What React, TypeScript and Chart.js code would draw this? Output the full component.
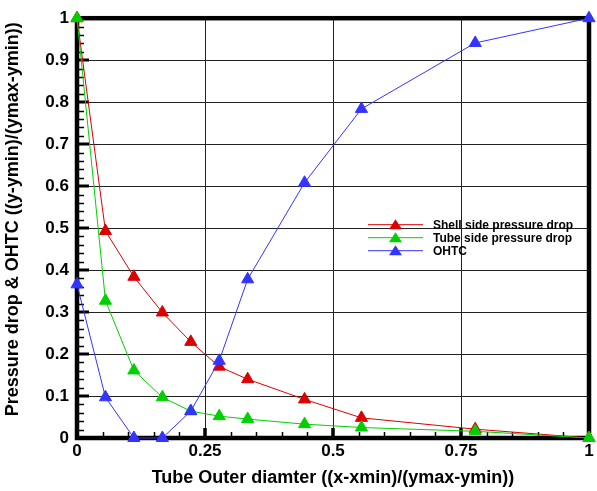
import React, { useEffect, useRef } from "react";
import { Chart, registerables } from "chart.js";

Chart.register(...registerables);

// ---- data ----
const xValues = [0, 0.0556, 0.1111, 0.1667, 0.2222, 0.2778, 0.3333, 0.4444, 0.5556, 0.7778, 1];
const shellDrop = [1, 0.493, 0.384, 0.299, 0.229, 0.17, 0.14, 0.092, 0.048, 0.021, 0];
const tubeDrop = [1, 0.327, 0.161, 0.097, 0.064, 0.052, 0.045, 0.033, 0.025, 0.016, 0];
const ohtc = [0.366, 0.097, 0.0, 0.0, 0.064, 0.184, 0.378, 0.608, 0.784, 0.941, 1];
const xTicks = [0, 0.25, 0.5, 0.75, 1];
const yTicks = [0, 0.1, 0.2, 0.3, 0.4, 0.5, 0.6, 0.7, 0.8, 0.9, 1];
const seriesLabels = ["Shell side pressure drop", "Tube side pressure drop", "OHTC"];
const seriesColors = ["#dc0000", "#00d000", "#3434ff"];
const xTitle = "Tube Outer diamter ((x-xmin)/(ymax-ymin))";
const yTitle = "Pressure drop & OHTC ((y-ymin)/(ymax-ymin))";

const FONT = "'Liberation Sans', Arial, sans-serif";

function tri(ctx: CanvasRenderingContext2D, x: number, y: number, w: number, h: number, color: string) {
  ctx.beginPath();
  ctx.moveTo(x, y - h / 2);
  ctx.lineTo(x + w / 2, y + h / 2);
  ctx.lineTo(x - w / 2, y + h / 2);
  ctx.closePath();
  ctx.fillStyle = color;
  ctx.fill();
}

const framePlugin = {
  id: "frame",
  beforeDatasetsDraw(chart: any) {
    const { ctx, chartArea: a, scales } = chart;
    const xs = scales.x;
    const ys = scales.y;
    ctx.save();
    ctx.strokeStyle = "#000";
    // y minor ticks
    ctx.lineWidth = 1.5;
    for (let i = 0; i <= 50; i++) {
      if (i % 5 === 0) continue;
      const py = Math.round(ys.getPixelForValue(i * 0.02)) + 0.5;
      ctx.beginPath();
      ctx.moveTo(a.left, py);
      ctx.lineTo(a.left + 7, py);
      ctx.stroke();
    }
    // y major ticks
    ctx.lineWidth = 3;
    yTicks.forEach((v) => {
      const py = Math.round(ys.getPixelForValue(v));
      ctx.beginPath();
      ctx.moveTo(a.left, py);
      ctx.lineTo(a.left + 12, py);
      ctx.stroke();
    });
    // x minor ticks
    ctx.lineWidth = 1.5;
    for (let i = 0; i <= 20; i++) {
      if (i % 5 === 0) continue;
      const px = Math.round(xs.getPixelForValue(i * 0.05)) + 0.5;
      ctx.beginPath();
      ctx.moveTo(px, a.bottom);
      ctx.lineTo(px, a.bottom - 6);
      ctx.stroke();
    }
    // x major ticks
    ctx.lineWidth = 3.5;
    xTicks.forEach((v) => {
      const px = Math.round(xs.getPixelForValue(v));
      ctx.beginPath();
      ctx.moveTo(px, a.bottom);
      ctx.lineTo(px, a.bottom - 10);
      ctx.stroke();
    });
    // frame
    ctx.lineWidth = 4.5;
    ctx.strokeRect(a.left, a.top, a.right - a.left, a.bottom - a.top);
    ctx.restore();
  },
  afterDatasetsDraw(chart: any) {
    const { ctx, chartArea: a } = chart;
    const lx0 = a.left + 291;
    const lx1 = a.left + 346;
    const ly0 = a.top + 206;
    ctx.save();
    seriesLabels.forEach((label, i) => {
      const y = ly0 + i * 13;
      ctx.strokeStyle = seriesColors[i];
      ctx.lineWidth = 1;
      ctx.beginPath();
      ctx.moveTo(lx0, y + 0.5);
      ctx.lineTo(lx1, y + 0.5);
      ctx.stroke();
      tri(ctx, (lx0 + lx1) / 2, y, 13, 10, seriesColors[i]);
      ctx.fillStyle = "#000";
      ctx.font = `bold 12px ${FONT}`;
      ctx.textBaseline = "middle";
      ctx.textAlign = "left";
      ctx.fillText(label, lx1 + 10, y + 1);
    });
    // y axis title
    ctx.translate(13, a.top + 201);
    ctx.rotate(-Math.PI / 2);
    ctx.fillStyle = "#000";
    ctx.font = `bold 18px ${FONT}`;
    ctx.textAlign = "center";
    ctx.textBaseline = "middle";
    ctx.fillText(yTitle, 0, 0);
    ctx.restore();
  },
};

export default function App() {
  const ref = useRef<HTMLCanvasElement | null>(null);
  useEffect(() => {
    if (!ref.current) return;
    const mk = (vals: number[], i: number, order: number) => ({
      label: seriesLabels[i],
      data: xValues.map((x, k) => ({ x, y: vals[k] })),
      borderColor: seriesColors[i],
      backgroundColor: seriesColors[i],
      borderWidth: 1,
      pointStyle: "triangle",
      pointRadius: 7,
      pointBorderWidth: 1,
      pointHoverRadius: 7,
      tension: 0,
      clip: false as any,
      order,
    });
    const chart = new Chart(ref.current, {
      type: "line",
      data: {
        datasets: [mk(shellDrop, 0, 3), mk(tubeDrop, 1, 2), mk(ohtc, 2, 1)] as any,
      },
      options: {
        animation: false,
        responsive: false,
        maintainAspectRatio: false,
        layout: { padding: { top: 14, right: 4, left: 0, bottom: 0 } },
        plugins: { legend: { display: false }, tooltip: { enabled: false } },
        scales: {
          x: {
            type: "linear",
            min: 0,
            max: 1,
            afterBuildTicks: (s: any) => {
              s.ticks = xTicks.map((v) => ({ value: v }));
            },
            afterFit: (s: any) => {
              s.height = 53;
            },
            ticks: {
              color: "#000",
              padding: 3,
              font: { family: FONT, size: 17, weight: "bold" },
              callback: (v: any) => String(v),
            },
            grid: { color: "#222", lineWidth: 1, drawTicks: false },
            border: { display: false },
            title: {
              display: true,
              text: xTitle,
              color: "#000",
              font: { family: FONT, size: 18, weight: "bold" },
              padding: { top: 0, bottom: 2 },
            },
          },
          y: {
            type: "linear",
            min: 0,
            max: 1,
            afterBuildTicks: (s: any) => {
              s.ticks = yTicks.map((v) => ({ value: v }));
            },
            afterFit: (s: any) => {
              s.width = 77;
            },
            ticks: {
              color: "#000",
              padding: 8,
              font: { family: FONT, size: 17, weight: "bold" },
              callback: (v: any) => String(Math.round(v * 10) / 10),
            },
            grid: { color: "#222", lineWidth: 1, drawTicks: false },
            border: { display: false },
            title: { display: false },
          },
        },
      },
      plugins: [framePlugin],
    } as any);
    return () => chart.destroy();
  }, []);
  return (
    <div style={{ position: "fixed", left: 0, top: 0, width: 597, height: 491, background: "#fff" }}>
      <canvas ref={ref} width={597} height={491} style={{ display: "block", width: 597, height: 491 }} />
    </div>
  );
}
